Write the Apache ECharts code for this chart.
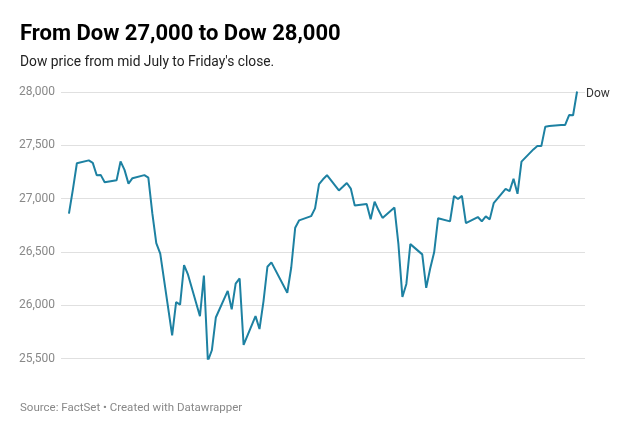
<!DOCTYPE html>
<html>
<head>
<meta charset="utf-8">
<script src="https://cdn.jsdelivr.net/npm/echarts@6/dist/echarts.min.js"></script>
<style>
html,body{margin:0;padding:0;background:#fff;}
#c{width:640px;height:440px;}
</style>
</head>
<body>
<div id="c"></div>
<script>
const titleText = "From Dow 27,000 to Dow 28,000";
const subtitleText = "Dow price from mid July to Friday's close.";
const footerText = "Source: FactSet \u2022 Created with Datawrapper";
const seriesName = "Dow";
const yTicks = [25500, 26000, 26500, 27000, 27500, 28000];

const dates = [
"2019-07-10","2019-07-11","2019-07-12","2019-07-15","2019-07-16","2019-07-17","2019-07-18","2019-07-19",
"2019-07-22","2019-07-23","2019-07-24","2019-07-25","2019-07-26","2019-07-29","2019-07-30","2019-07-31",
"2019-08-01","2019-08-02","2019-08-05","2019-08-06","2019-08-07","2019-08-08","2019-08-09",
"2019-08-12","2019-08-13","2019-08-14","2019-08-15","2019-08-16","2019-08-19","2019-08-20","2019-08-21",
"2019-08-22","2019-08-23","2019-08-26","2019-08-27","2019-08-28","2019-08-29","2019-08-30",
"2019-09-03","2019-09-04","2019-09-05","2019-09-06","2019-09-09","2019-09-10","2019-09-11","2019-09-12",
"2019-09-13","2019-09-16","2019-09-17","2019-09-18","2019-09-19","2019-09-20","2019-09-23","2019-09-24",
"2019-09-25","2019-09-26","2019-09-27","2019-09-30",
"2019-10-01","2019-10-02","2019-10-03","2019-10-04","2019-10-07","2019-10-08","2019-10-09","2019-10-10",
"2019-10-11","2019-10-14","2019-10-15","2019-10-16","2019-10-17","2019-10-18","2019-10-21","2019-10-22",
"2019-10-23","2019-10-24","2019-10-25","2019-10-28","2019-10-29","2019-10-30","2019-10-31",
"2019-11-01","2019-11-04","2019-11-05","2019-11-06","2019-11-07","2019-11-08","2019-11-11","2019-11-12",
"2019-11-13","2019-11-14","2019-11-15"
];
const closes = [
26860,27088,27332,27359,27336,27220,27223,27154,
27172,27349,27270,27141,27192,27221,27198,26864,
26583,26485,25718,26030,26007,26378,26287,
25898,26280,25479,25579,25886,26136,25962,26203,
26252,25629,25899,25778,26036,26362,26403,
26118,26355,26728,26797,26836,26909,27137,27182,
27220,27077,27111,27147,27095,26935,26950,26808,
26971,26891,26820,26917,
26573,26079,26201,26574,26478,26164,26346,26497,
26817,26787,27025,26997,27026,26770,26828,26788,
26834,26806,26958,27091,27071,27187,27046,
27347,27462,27493,27493,27675,27681,27691,27691,
27784,27782,28005
];

const chart = echarts.init(document.getElementById('c'), null, {renderer:'canvas'});
const FONT = 'Roboto, "Noto Sans", sans-serif';
chart.setOption({
  backgroundColor:'#ffffff',
  animation:false,
  title:[
    {text:titleText, left:20, top:23, padding:0,
     textStyle:{fontFamily:FONT, fontSize:22, fontWeight:'bold', color:'#000', lineHeight:22}},
    {text:subtitleText, left:20, top:56, padding:0,
     textStyle:{fontFamily:FONT, fontSize:13.8, fontWeight:'normal', color:'#222', lineHeight:14}},
    {text:footerText, left:20, top:402, padding:0,
     textStyle:{fontFamily:FONT, fontSize:11.5, fontWeight:'normal', color:'#888', lineHeight:12}}
  ],
  grid:{left:61, right:55, top:92, bottom:81.3, containLabel:false},
  xAxis:{
    type:'time',
    min:'2019-07-08', max:'2019-11-17',
    axisLine:{show:false}, axisTick:{show:false}, axisLabel:{show:false}, splitLine:{show:false}
  },
  yAxis:{
    type:'value', min:yTicks[0], max:yTicks[yTicks.length-1], interval:500,
    axisLine:{show:false}, axisTick:{show:false},
    axisLabel:{fontFamily:FONT, fontSize:12, color:'#888', margin:6,
      formatter:v=>v.toLocaleString('en-US')},
    splitLine:{show:true, lineStyle:{color:'#e0e0e0', width:1}}
  },
  series:[{
    name:seriesName, type:'line', showSymbol:false, symbol:'none',
    data:dates.map((d,i)=>[d, closes[i]]),
    lineStyle:{color:'#1d81a2', width:2},
    itemStyle:{color:'#1d81a2'},
    endLabel:{show:true, formatter:seriesName, color:'#333', fontFamily:FONT, fontSize:12, distance:9, offset:[0,3]},
    emphasis:{disabled:true}
  }]
});
</script>
</body>
</html>
